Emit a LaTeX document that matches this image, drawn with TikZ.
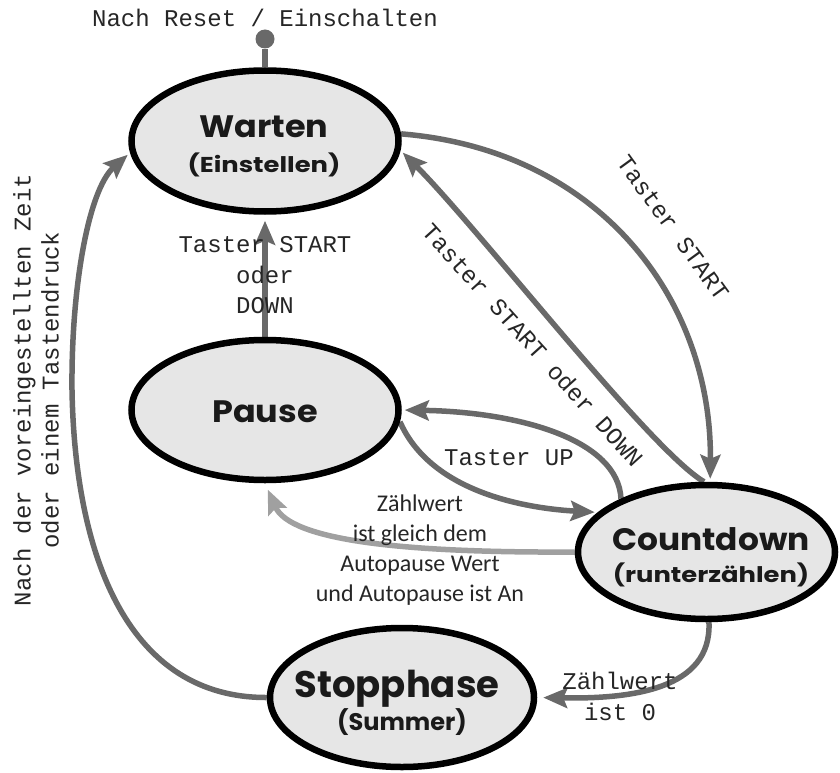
\documentclass[tikz,border=0pt]{standalone}
\usepackage{fontspec}
\usepackage{graphicx}
\usetikzlibrary{arrows.meta,shapes.geometric,calc}
\newfontfamily\monofont{Liberation Mono}
\newfontfamily\statefont{Poppins}
\newfontfamily\condfont{Carlito}
\definecolor{arr}{RGB}{105,105,105}
\definecolor{arrlight}{RGB}{160,160,160}
\definecolor{sfill}{RGB}{230,230,230}
\definecolor{stxt}{RGB}{26,26,26}
\pgfdeclarelayer{bg}
\pgfsetlayers{bg,main}
\begin{document}
\begin{tikzpicture}[x=1pt,y=-1pt,
  statebox/.style={ellipse, draw=black, line width=6.5pt, fill=sfill, inner sep=0pt},
  conn/.style={draw=arr, line width=5.5pt, shorten >=3pt, -{Stealth[length=24pt,width=20pt,inset=4pt]}},
  lightconn/.style={conn, draw=arrlight},
  monolabel/.style={font=\monofont\fontsize{24}{30.5}\selectfont, text=black!85, inner sep=0pt, align=center},
  sanslabel/.style={font=\condfont\fontsize{24}{30}\selectfont, text=black!85, inner sep=0pt, align=center},
  statetitle/.style={font=\statefont\bfseries\fontsize{31}{36}\selectfont, text=stxt, inner sep=0pt, anchor=base},
  statesub/.style={font=\statefont\bfseries\fontsize{21.5}{26}\selectfont, text=stxt, inner sep=0pt, anchor=base},
]
\useasboundingbox (0,0) rectangle (840,773);

% states
\node[statebox, minimum width=267pt, minimum height=141pt] (w) at (265,141) {};
\node[statebox, minimum width=267pt, minimum height=140pt] (p) at (265,410) {};
\node[statebox, minimum width=257pt, minimum height=134pt] (cd) at (706.5,552) {};
\node[statebox, minimum width=264pt, minimum height=139pt] (s) at (402,697.5) {};

\node[statetitle] (wt) at (264,138) {\scalebox{1.08}[1]{Warten}};
\node[statesub] (ws) at (264,172) {\scalebox{1.2}[1]{(Einstellen)}};
\node[statetitle] (pt) at (265,422) {\scalebox{1.08}[1]{Pause}};
\node[statetitle] (ct) at (711,550) {\scalebox{1.06}[1]{Countdown}};
\node[statesub] (cs) at (711,582) {\scalebox{1.2}[1]{(runterzählen)}};
\node[statetitle, font=\statefont\bfseries\fontsize{37}{42}\selectfont] (st) at (397,697) {Stopphase};
\node[statesub, font=\statefont\bfseries\fontsize{24}{28}\selectfont] (ss) at (402,730) {(Summer)};

% initial
\node[circle, fill=arr, inner sep=0pt, minimum size=19pt] (init) at (265,39) {};

\begin{pgfonlayer}{bg}
\draw[draw=arr, line width=5.5pt] (init) -- (w);
\draw[conn, shorten >=6pt] (p) -- (w);
\draw[conn] (w.3) .. controls (600,150) and (712,300) .. (cd.87);
\draw[conn] (cd.92) .. controls (650,450) and (480,230) .. (w.-4);
\draw[conn] (p.-5) .. controls (430,490) and (520,508) .. (cd.160);
\draw[conn] (cd.148) .. controls (618,440) and (520,412) .. (p.east);
\draw[lightconn, shorten >=7pt] (cd.west) .. controls (400,553) and (290,540) .. (p.south);
\draw[conn, shorten >=6pt] (cd.-88) .. controls (712,690) and (630,699) .. (s.east);
\draw[conn] (s.west) .. controls (130,698) and (75,560) .. (72,390) .. controls (71,290) and (88,190) .. (w.185);
\end{pgfonlayer}

% labels
\node[monolabel, anchor=base] (linit) at (265,27) {Nach Reset / Einschalten};
\node[monolabel, rotate=-54] (lws) at (673,228) {Taster START};
\node[monolabel, rotate=-48] (lcw) at (533,345) {Taster START oder DOWN};
\node[monolabel] (lpw) at (265,275.5) {Taster START\\oder\\DOWN};
\node[monolabel] (lup) at (509,457.5) {Taster UP};
\node[monolabel] (lzero) at (620,696.5) {Zählwert\\ist 0};
\node[monolabel, rotate=90, font=\monofont\fontsize{24}{28}\selectfont] (lleft) at (36,390) {Nach der voreingestellten Zeit\\oder einem Tastendruck};
\node[sanslabel] (lauto) at (420,550) {Zählwert\\ist gleich dem\\Autopause Wert\\und Autopause ist An};
\end{tikzpicture}
\end{document}
